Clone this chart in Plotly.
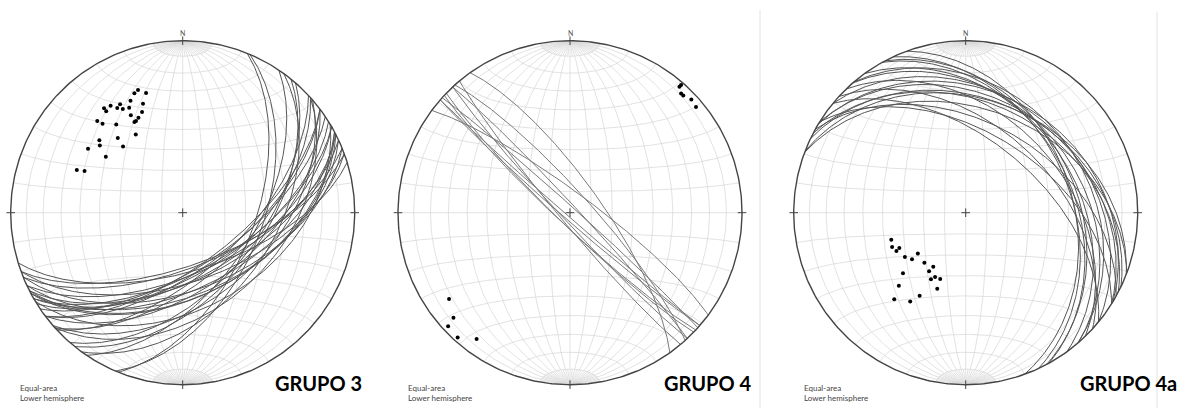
import numpy as np
import plotly.graph_objects as go

# ---------------- data: poles to planes (trend, plunge in degrees) ----------------
g3_trend = [340, 338, 343, 335, 340, 326, 323, 323, 330, 328, 330, 333, 338, 332, 335,
            333, 332, 317, 318, 323, 329, 319, 311, 309, 318, 304, 306, 292, 293]
g3_plunge = [25, 26, 28, 29, 33, 26, 25, 27, 28, 29, 31, 32, 37, 36, 39,
             40, 40, 28, 31, 36, 46, 42, 36, 38, 47, 34, 44, 34, 38]

g4_trend = [41, 41, 43, 44, 47, 50, 234.5, 228, 227, 222, 216.5]
g4_plunge = [3.4, 1.8, 5.9, 5.8, 4.0, 4.9, 14.7, 9.7, 3.5, 2.7, 9.6]

g4a_trend = [250, 245, 241, 242, 234, 229, 229.5, 219.5, 212, 211, 205.5, 207.5,
             201, 200.5, 226, 222.5, 219.5, 212, 209]
g4a_plunge = [52, 51, 52, 54, 54, 56, 60, 59, 57, 60, 56, 54,
              56, 51, 48, 42, 35, 39, 44]

titles = ["GRUPO 3", "GRUPO 4", "GRUPO 4a"]
net_text = ["Equal-area", "Lower hemisphere"]

panels = [
    dict(trend=g3_trend, plunge=g3_plunge, title=titles[0], plane_color="#555555"),
    dict(trend=g4_trend, plunge=g4_plunge, title=titles[1], plane_color="#7a7a7a"),
    dict(trend=g4a_trend, plunge=g4a_plunge, title=titles[2], plane_color="#555555"),
]

# ---------------- layout constants ----------------
W, H = 1187, 408
R = 172.0
CY = 212.7
centers = [182.7, 570.0, 965.7]
slices = [(0, 385), (385, 775), (775, 1187)]
title_right = [364, 754, 1179]
text_left = [18, 406, 802]


def proj(e, n, d):
    """Equal-area (Schmidt) lower-hemisphere projection of unit vectors."""
    s = 1.0 / np.sqrt(1.0 + d)
    return e * s, n * s


def line_vec(trend, plunge):
    t, p = np.radians(trend), np.radians(plunge)
    return np.sin(t) * np.cos(p), np.cos(t) * np.cos(p), np.sin(p)


def great_circle_from_pole(trend, plunge, n=181):
    dip = np.radians(90.0 - plunge)
    dd = np.radians((trend + 180.0) % 360.0)
    st = dd - np.pi / 2
    s = np.linspace(0, np.pi, n)
    u = np.array([np.sin(st), np.cos(st), 0.0])
    v = np.array([np.sin(dd) * np.cos(dip), np.cos(dd) * np.cos(dip), np.sin(dip)])
    pts = np.outer(np.cos(s), u) + np.outer(np.sin(s), v)
    return proj(pts[:, 0], pts[:, 1], np.clip(pts[:, 2], 0, None))


def grid_segments():
    xs, ys = [], []

    def add(x, y):
        xs.extend(list(x) + [None])
        ys.extend(list(y) + [None])

    # meridians (great circles about N-S axis) every 10 deg
    s = np.linspace(0, np.pi, 181)
    for dl in range(10, 91, 10):
        d = np.radians(dl)
        for sg in ([1, -1] if dl < 90 else [1]):
            e = sg * np.sin(s) * np.cos(d)
            n = np.cos(s)
            dd = np.sin(s) * np.sin(d)
            add(*proj(e, n, dd))
    # small circles about N-S axis every 10 deg
    phi = np.linspace(0, np.pi, 181)
    for al in range(10, 171, 10):
        a = np.radians(al)
        e = np.sin(a) * np.cos(phi)
        n = np.full_like(phi, np.cos(a))
        dd = np.sin(a) * np.sin(phi)
        add(*proj(e, n, dd))
    # extra meridians inside the polar caps
    for dl in range(5, 90, 10):
        d = np.radians(dl)
        for seg in (np.linspace(0, np.radians(10), 11), np.linspace(np.radians(170), np.pi, 11)):
            for sg in [1, -1]:
                e = sg * np.sin(seg) * np.cos(d)
                n = np.cos(seg)
                dd = np.sin(seg) * np.sin(d)
                add(*proj(e, n, dd))
    return xs, ys


fig = go.Figure()
gx, gy = grid_segments()
th = np.linspace(0, 2 * np.pi, 361)

annotations = []
layout_axes = {}

for i, p in enumerate(panels):
    key = "" if i == 0 else str(i + 1)
    xa, ya = "x" + key, "y" + key
    x0, x1 = slices[i]
    cx = centers[i]
    layout_axes["xaxis" + key] = dict(domain=[x0 / W, x1 / W], range=[(x0 - cx) / R, (x1 - cx) / R],
                                      visible=False, fixedrange=True, anchor=ya)
    layout_axes["yaxis" + key] = dict(domain=[0, 1], range=[(CY - H) / R, CY / R],
                                      visible=False, fixedrange=True, anchor=xa)

    # grid
    fig.add_trace(go.Scatter(x=gx, y=gy, mode="lines", xaxis=xa, yaxis=ya,
                             line=dict(color="#d6d6d6", width=0.7), hoverinfo="skip", showlegend=False))
    # planes (great circles)
    px_all, py_all = [], []
    for t, pl in zip(p["trend"], p["plunge"]):
        x, y = great_circle_from_pole(t, pl)
        px_all.extend(list(x) + [None])
        py_all.extend(list(y) + [None])
    fig.add_trace(go.Scatter(x=px_all, y=py_all, mode="lines", xaxis=xa, yaxis=ya,
                             line=dict(color=p["plane_color"], width=1.0), hoverinfo="skip", showlegend=False))
    # primitive circle
    fig.add_trace(go.Scatter(x=np.cos(th), y=np.sin(th), mode="lines", xaxis=xa, yaxis=ya,
                             line=dict(color="#444444", width=1.4), hoverinfo="skip", showlegend=False))
    # cardinal ticks and centre cross
    tk = 0.025
    tx = [1 - tk, 1 + tk, None, -1 - tk, -1 + tk, None, 0, 0, None, 0, 0, None,
          -tk, tk, None, 0, 0]
    ty = [0, 0, None, 0, 0, None, 1 - tk, 1 + tk, None, -1 - tk, -1 + tk, None,
          0, 0, None, -tk, tk]
    fig.add_trace(go.Scatter(x=tx, y=ty, mode="lines", xaxis=xa, yaxis=ya,
                             line=dict(color="#444444", width=1), hoverinfo="skip", showlegend=False))
    # poles
    e, n, d = line_vec(np.array(p["trend"], float), np.array(p["plunge"], float))
    x, y = proj(e, n, d)
    fig.add_trace(go.Scatter(x=x, y=y, mode="markers", xaxis=xa, yaxis=ya,
                             marker=dict(color="black", size=4), hoverinfo="skip", showlegend=False))

    # texts
    annotations.append(dict(x=0, y=(CY - 33) / R, xref=xa, yref=ya, text="N", showarrow=False,
                            font=dict(family="Lato", size=7, color="#555555"), yanchor="middle"))
    annotations.append(dict(x=title_right[i] / W, y=1 - 383 / H, xref="paper", yref="paper",
                            text="<b>" + p["title"] + "</b>", showarrow=False, xanchor="right",
                            yanchor="middle", font=dict(family="Lato", size=20, color="black")))
    for j, t in enumerate(net_text):
        annotations.append(dict(x=text_left[i] / W, y=1 - (388 + 10 * j) / H, xref="paper", yref="paper",
                                text=t, showarrow=False, xanchor="left", yanchor="middle",
                                font=dict(family="Lato", size=8, color="#444444")))

shapes = [
    dict(type="line", xref="paper", yref="paper", x0=760 / W, x1=760 / W, y0=0, y1=1 - 10 / H,
         line=dict(color="#e2e2e2", width=1)),
    dict(type="line", xref="paper", yref="paper", x0=1157 / W, x1=1157 / W, y0=0, y1=1 - 12 / H,
         line=dict(color="#e2e2e2", width=1)),
]

fig.update_layout(width=W, height=H, margin=dict(l=0, r=0, t=0, b=0),
                  paper_bgcolor="white", plot_bgcolor="white",
                  annotations=annotations, shapes=shapes, **layout_axes)

fig.write_html("out.html", config={"displayModeBar": False, "staticPlot": True},
               post_script="document.body.style.margin='0px';document.body.style.overflow='hidden';")
